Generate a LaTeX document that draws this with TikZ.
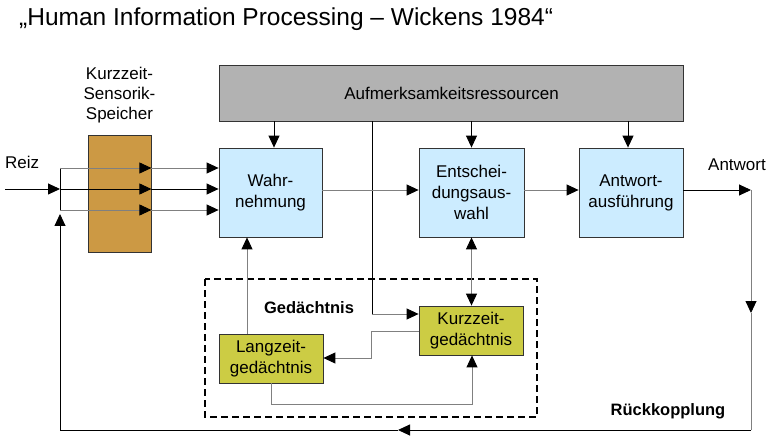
\documentclass[tikz,border=0pt]{standalone}
\usepackage{fontspec}
\setmainfont{Liberation Sans}
\usetikzlibrary{arrows.meta}
\definecolor{grbox}{RGB}{178,178,178}
\definecolor{lblue}{RGB}{204,236,255}
\definecolor{brownbox}{RGB}{204,153,68}
\definecolor{ybox}{RGB}{204,204,68}
\definecolor{lgray}{RGB}{128,128,128}
\tikzset{
  box/.style={draw=black!80, line width=0.8pt, align=center, inner sep=0pt,
    font=\fontsize{17}{21}\selectfont},
  bluebox/.style={box, fill=lblue, minimum width=104pt, minimum height=89pt},
  ybx/.style={box, fill=ybox, minimum width=104pt, minimum height=49pt},
  lbl/.style={align=center, inner sep=0pt, font=\fontsize{17}{20}\selectfont},
  arr/.style={-{Triangle[length=12pt,width=11pt,color=black]}, line width=0.9pt},
  ln/.style={line width=0.9pt},
  gl/.style={draw=lgray},
  darr/.style={{Triangle[length=12pt,width=11pt,color=black]}-{Triangle[length=12pt,width=11pt,color=black]}, line width=0.9pt}
}
\begin{document}
\begin{tikzpicture}[x=1pt,y=-1pt]
\useasboundingbox (0,0) rectangle (773,446);
% title
\node[anchor=west, inner sep=0pt, font=\fontsize{24.5}{28}\selectfont] (title) at (19,19) {„Human Information Processing – Wickens 1984“};
% boxes
\node[box, fill=grbox, minimum width=464pt, minimum height=56pt] (att) at (451.5,93) {Aufmerksamkeitsressourcen};
\node[bluebox, minimum width=103pt] (wahr) at (270.5,192.5) {Wahr-\\nehmung};
\node[bluebox, minimum width=105pt] (ent) at (471.5,192.5) {Entschei-\\dungsaus-\\wahl};
\node[bluebox] (ant) at (631,192.5) {Antwort-\\ausführung};
\node[box, fill=brownbox, minimum width=63pt, minimum height=117pt] (sens) at (119.5,193.5) {};
\node[lbl] (senslbl) at (119.5,95) {Kurzzeit-\\Sensorik-\\Speicher};
\node[lbl, anchor=west] (reiz) at (5,162) {Reiz};
\node[lbl] (antw) at (737,165) {Antwort};
% memory
\draw[line width=1.6pt, dash pattern=on 7pt off 4pt] (205,279) rectangle (537,417);
\node[lbl, font=\bfseries\fontsize{16.5}{20}\selectfont] (ged) at (309,308) {Gedächtnis};
\node[ybx] (lang) at (271,358.5) {Langzeit-\\gedächtnis};
\node[ybx] (kurz) at (471,330.5) {Kurzzeit-\\gedächtnis};
\node[lbl, font=\bfseries\fontsize{16.5}{20}\selectfont] (rueck) at (668,411) {Rückkopplung};
% coordinates
\coordinate (rin) at (5,189);
\coordinate (j1) at (60,168);
\coordinate (j2) at (60,189);
\coordinate (j3) at (60,210);
\coordinate (fbup) at (60,214);
\coordinate (fbl) at (60,430);
\coordinate (fbr) at (751,430);
\coordinate (fbm) at (398,430);
\coordinate (ao) at (751,190);
\coordinate (ad) at (751,313);
% input arrows
\draw[arr] (rin) -- (j2);
\draw[ln] (j1) -- (j3);
\draw[arr, gl] (j1) -- (sens.east |- j1);
\draw[arr] (j2) -- (sens.east |- j2);
\draw[arr, gl] (j3) -- (sens.east |- j3);
\draw[arr, gl] (sens.east |- j1) -- (wahr.west |- j1);
\draw[arr] (sens.east |- j2) -- (wahr.west |- j2);
\draw[arr, gl] (sens.east |- j3) -- (wahr.west |- j3);
% attention arrows
\draw[arr] (att.south -| 274,0) -- (wahr.north -| 274,0);
\draw[arr] (att.south -| ent) -- (ent.north);
\draw[arr] (att.south -| 628,0) -- (ant.north -| 628,0);
\draw[ln] (att.south -| 372,0) -- (372,314);
\draw[arr, gl] (372,314) -- (kurz.west |- 0,314);
% main flow
\draw[arr, gl] (wahr.east |- 0,190) -- (ent.west |- 0,190);
\draw[arr, gl] (ent.east |- 0,190) -- (ant.west |- 0,190);
\draw[arr] (ant.east |- ao) -- (ao);
\draw[arr, gl] (ao) -- (ad);
\draw[ln, gl] (ad) -- (fbr);
% feedback
\draw[arr] (fbr) -- (fbm);
\draw[arr] (fbm) -- (fbl) -- (fbup);
% memory links
\draw[darr, gl] (ent.south) -- (kurz.north -| ent.south);
\draw[arr, gl] (lang.north -| 247,0) -- (wahr.south -| 247,0);
\draw[arr, gl] (kurz.west |- 0,331) -- (371,331) -- (371,358) -- (lang.east |- 0,358);
\draw[arr, gl] (lang.south) -- (271,404) -- (472,404) -- (kurz.south -| 472,0);
\end{tikzpicture}
\end{document}
